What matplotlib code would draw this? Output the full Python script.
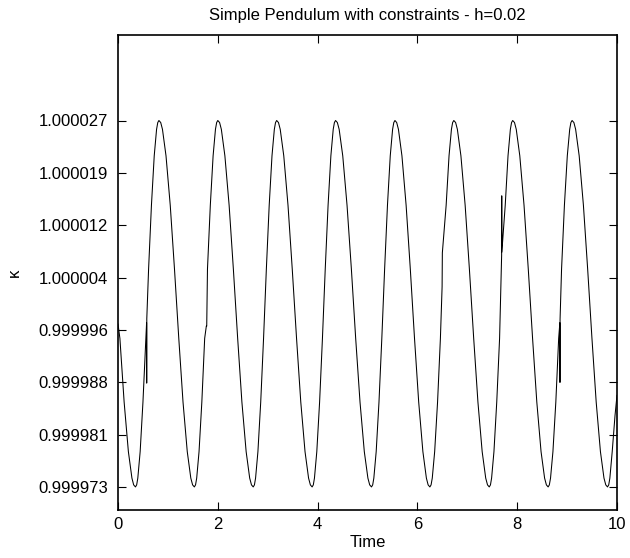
import numpy as np
import matplotlib
matplotlib.use("Agg")
import matplotlib.pyplot as plt
from matplotlib.ticker import FormatStrFormatter

plt.rcParams['font.family'] = ['Liberation Sans', 'DejaVu Sans']

# time samples and kappa deviation (in units of 1e-6, kappa = 1 + dev*1e-6)
time = [
    0.000, 0.038, 0.123, 0.208, 0.279, 0.314, 0.350,
    0.374, 0.397, 0.444, 0.500, 0.557, 0.573, 0.575, 0.577, 0.613, 0.670, 0.726, 0.773, 0.797, 0.820,
    0.856, 0.891, 0.962, 1.047, 1.132, 1.218, 1.303, 1.388, 1.459, 1.495, 1.530,
    1.554, 1.577, 1.624, 1.680, 1.737, 1.770, 1.778, 1.793, 1.850, 1.906, 1.953, 1.977, 2.000,
    2.036, 2.071, 2.142, 2.227, 2.312, 2.398, 2.483, 2.568, 2.639, 2.675, 2.710,
    2.734, 2.757, 2.804, 2.860, 2.917, 2.973, 3.030, 3.086, 3.133, 3.157, 3.180,
    3.216, 3.251, 3.322, 3.407, 3.492, 3.578, 3.663, 3.748, 3.819, 3.855, 3.890,
    3.914, 3.937, 3.984, 4.040, 4.097, 4.153, 4.210, 4.266, 4.313, 4.337, 4.360,
    4.396, 4.432, 4.504, 4.590, 4.677, 4.763, 4.850, 4.936, 5.008, 5.044, 5.080,
    5.104, 5.127, 5.174, 5.230, 5.287, 5.343, 5.400, 5.456, 5.503, 5.527, 5.550,
    5.585, 5.620, 5.690, 5.774, 5.858, 5.942, 6.026, 6.110, 6.180, 6.215, 6.250,
    6.274, 6.298, 6.346, 6.404, 6.461, 6.495, 6.500, 6.576, 6.634, 6.682, 6.706, 6.730,
    6.766, 6.801, 6.872, 6.957, 7.042, 7.128, 7.213, 7.298, 7.369, 7.405, 7.440,
    7.464, 7.487, 7.534, 7.590, 7.647, 7.688, 7.690, 7.692, 7.760, 7.816, 7.863, 7.887, 7.910,
    7.946, 7.981, 8.052, 8.137, 8.222, 8.308, 8.393, 8.478, 8.549, 8.585, 8.620,
    8.644, 8.668, 8.716, 8.774, 8.831, 8.855, 8.857, 8.859, 8.889, 8.946, 9.004, 9.052, 9.076, 9.100,
    9.136, 9.171, 9.242, 9.327, 9.412, 9.498, 9.583, 9.668, 9.739, 9.775, 9.810,
    9.834, 9.857, 9.904, 9.960, 10.000,
]
kappa_dev = [
    -3.0, -5.1, -14.5, -21.8, -25.7, -26.7, -27.0,
    -26.7, -25.7, -21.8, -14.5, -5.1, -2.8, -11.7, -2.2, 5.1, 14.5, 21.8, 25.7, 26.7, 27.0,
    26.7, 25.7, 21.8, 14.5, 5.1, -5.1, -14.5, -21.8, -25.7, -26.7, -27.0,
    -26.7, -25.7, -21.8, -14.5, -5.1, -3.3, -3.3, 5.1, 14.5, 21.8, 25.7, 26.7, 27.0,
    26.7, 25.7, 21.8, 14.5, 5.1, -5.1, -14.5, -21.8, -25.7, -26.7, -27.0,
    -26.7, -25.7, -21.8, -14.5, -5.1, 5.1, 14.5, 21.8, 25.7, 26.7, 27.0,
    26.7, 25.7, 21.8, 14.5, 5.1, -5.1, -14.5, -21.8, -25.7, -26.7, -27.0,
    -26.7, -25.7, -21.8, -14.5, -5.1, 5.1, 14.5, 21.8, 25.7, 26.7, 27.0,
    26.7, 25.7, 21.8, 14.5, 5.1, -5.1, -14.5, -21.8, -25.7, -26.7, -27.0,
    -26.7, -25.7, -21.8, -14.5, -5.1, 5.1, 14.5, 21.8, 25.7, 26.7, 27.0,
    26.7, 25.7, 21.8, 14.5, 5.1, -5.1, -14.5, -21.8, -25.7, -26.7, -27.0,
    -26.7, -25.7, -21.8, -14.5, -5.1, 2.5, 7.5, 14.5, 21.8, 25.7, 26.7, 27.0,
    26.7, 25.7, 21.8, 14.5, 5.1, -5.1, -14.5, -21.8, -25.7, -26.7, -27.0,
    -26.7, -25.7, -21.8, -14.5, -5.1, 7.1, 15.9, 7.6, 14.5, 21.8, 25.7, 26.7, 27.0,
    26.7, 25.7, 21.8, 14.5, 5.1, -5.1, -14.5, -21.8, -25.7, -26.7, -27.0,
    -26.7, -25.7, -21.8, -14.5, -5.1, -2.8, -11.6, -2.3, 5.1, 14.5, 21.8, 25.7, 26.7, 27.0,
    26.7, 25.7, 21.8, 14.5, 5.1, -5.1, -14.5, -21.8, -25.7, -26.7, -27.0,
    -26.7, -25.7, -21.8, -16.5, -13.5,
]
x_ticks = [0, 2, 4, 6, 8, 10]
y_tick_min = 0.999973
y_tick_max = 1.000027

kappa = 1.0 + np.array(kappa_dev) * 1e-6

fig = plt.figure(figsize=(6.3, 5.58), dpi=100)
ax = fig.add_axes([118 / 630, 1 - 510 / 558, 499 / 630, 475 / 558])

ax.plot(time, kappa, color='black', linewidth=0.75)

ax.set_xlim(0, 10)
ax.set_ylim(1 - 30.4e-6, 1 + 39.6e-6)
ax.set_xticks(x_ticks)
ax.set_yticks(np.linspace(y_tick_min, y_tick_max, 8))
ax.yaxis.set_major_formatter(FormatStrFormatter('%.6f'))

ax.tick_params(direction='in', top=True, right=True, length=6, width=0.8,
               labelsize=12, colors='black')
ax.tick_params(axis='y', pad=7)
ax.tick_params(axis='x', pad=5)
for s in ax.spines.values():
    s.set_linewidth(1.2)

ax.set_xlabel('Time', fontsize=12, labelpad=2)
ax.set_ylabel('κ', fontsize=12, labelpad=12)
ax.set_title('Simple Pendulum with constraints - h=0.02', fontsize=12, pad=11)

fig.savefig('out.png', dpi=100)
